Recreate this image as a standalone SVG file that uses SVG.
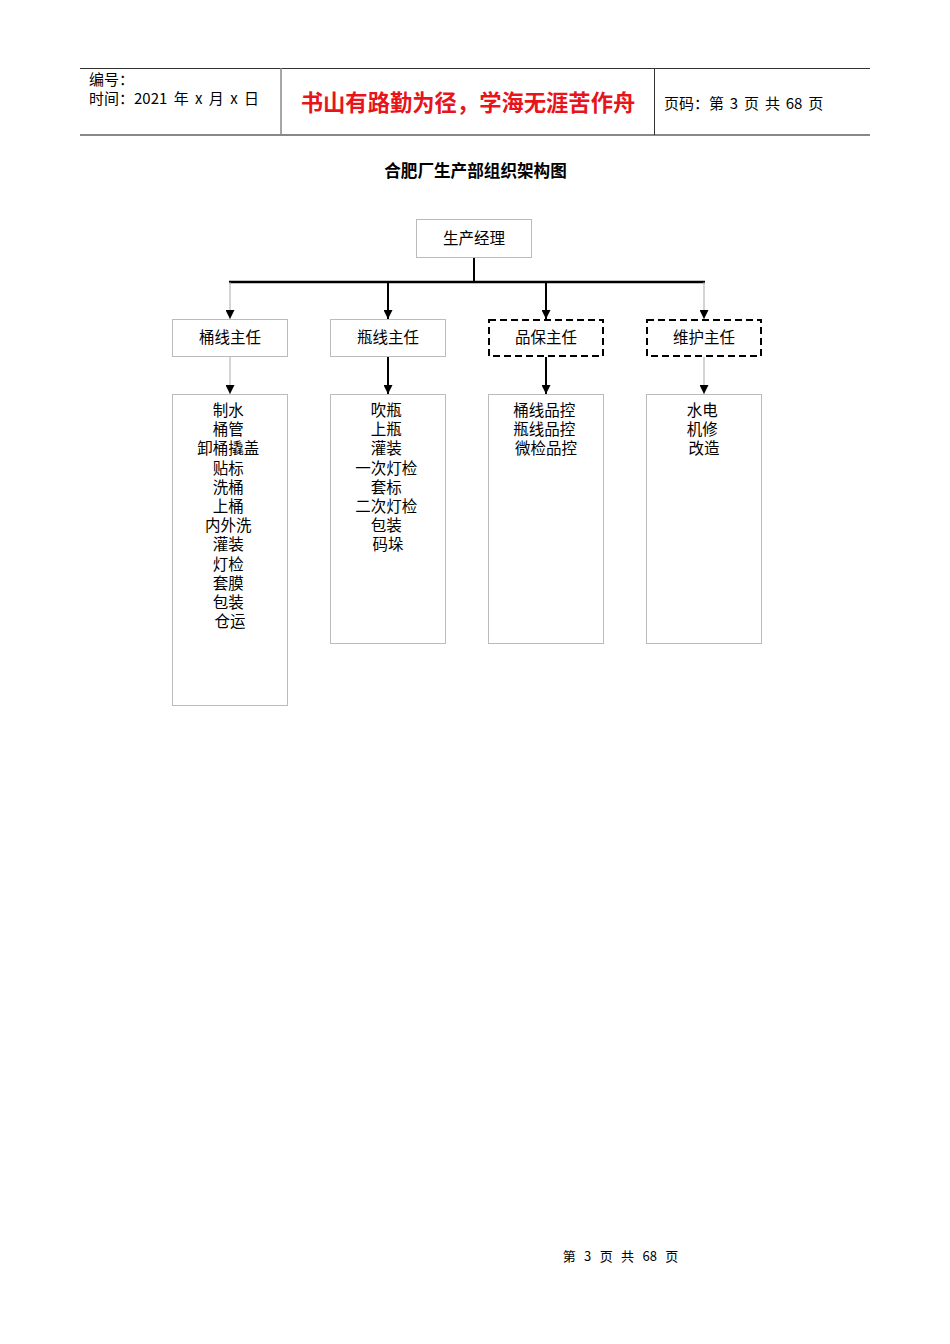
<svg xmlns="http://www.w3.org/2000/svg" width="950" height="1344" viewBox="0 0 950 1344">
<style>
text{font-family:"Noto Sans CJK SC","Liberation Sans",sans-serif;fill:#000}
.hd{font-size:15px}
.nd{font-size:15.5px;text-anchor:middle}
.box{fill:#fff;stroke:#bbb;stroke-width:1}
.dbox{fill:#fff;stroke:#000;stroke-width:2;stroke-dasharray:7,4}
.thin{stroke:#aaa;stroke-width:1;fill:none}
.thick{stroke:#000;stroke-width:2;fill:none}
</style>
<defs>
<marker id="ah" viewBox="0 0 10 10" refX="10" refY="5" markerWidth="9" markerHeight="9" markerUnits="userSpaceOnUse" orient="auto">
<path d="M0,0 L10,5 L0,10 z" fill="#000"/>
</marker>
</defs>
<rect width="950" height="1344" fill="#fff"/>
<g id="header">
<line x1="80" y1="68.5" x2="870" y2="68.5" stroke="#333" stroke-width="1"/>
<line x1="80" y1="135" x2="870" y2="135" stroke="#888" stroke-width="2"/>
<line x1="281" y1="68" x2="281" y2="135" stroke="#888" stroke-width="1.5"/>
<line x1="654.5" y1="68" x2="654.5" y2="135" stroke="#333" stroke-width="1"/>
<text class="hd" x="89" y="85">编号：</text>
<text class="hd" x="89" y="104" style="word-spacing:3px">时间：2021 年 x 月 x 日</text>
<text x="468" y="111" text-anchor="middle" style="font-size:22.3px;font-weight:bold;fill:#e8141b">书山有路勤为径，学海无涯苦作舟</text>
<text class="hd" x="664" y="109" style="word-spacing:2.5px">页码：第 3 页  共 68 页</text>
</g>
<text x="475.5" y="177" text-anchor="middle" style="font-size:16.6px;font-weight:bold">合肥厂生产部组织架构图</text>
<g id="connectors">
<line class="thick" x1="474" y1="257" x2="474" y2="282"/>
<line x1="229" y1="282" x2="705" y2="282" stroke="#000" stroke-width="2.5"/>
<line class="thin" x1="230" y1="282" x2="230" y2="319" marker-end="url(#ah)"/>
<line class="thick" x1="388" y1="282" x2="388" y2="319" marker-end="url(#ah)"/>
<line class="thick" x1="546" y1="282" x2="546" y2="319" marker-end="url(#ah)"/>
<line class="thin" x1="704" y1="282" x2="704" y2="319" marker-end="url(#ah)"/>
<line class="thin" x1="230" y1="356" x2="230" y2="394" marker-end="url(#ah)"/>
<line class="thick" x1="388" y1="356" x2="388" y2="394" marker-end="url(#ah)"/>
<line class="thick" x1="546" y1="357" x2="546" y2="394" marker-end="url(#ah)"/>
<line class="thin" x1="704" y1="357" x2="704" y2="394" marker-end="url(#ah)"/>
</g>
<g id="n-manager">
<rect class="box" x="416.5" y="219.5" width="115" height="38"/>
<text class="nd" x="474" y="244">生产经理</text>
</g>
<g id="n-tong">
<rect class="box" x="172.5" y="319.5" width="115" height="37"/>
<text class="nd" x="230" y="343">桶线主任</text>
</g>
<g id="n-ping">
<rect class="box" x="330.5" y="319.5" width="115" height="37"/>
<text class="nd" x="388" y="343">瓶线主任</text>
</g>
<g id="n-pinbao">
<rect class="dbox" x="489" y="320" width="114" height="36"/>
<text class="nd" x="546" y="343">品保主任</text>
</g>
<g id="n-weihu">
<rect class="dbox" x="647" y="320" width="114" height="36"/>
<text class="nd" x="704" y="343">维护主任</text>
</g>
<g id="n-tong-tasks">
<rect class="box" x="172.5" y="394.5" width="115" height="311"/>
<text class="nd">
<tspan x="230" y="416">制水</tspan>
<tspan x="230" y="435.2">桶管</tspan>
<tspan x="230" y="454.4">卸桶撬盖</tspan>
<tspan x="230" y="473.6">贴标</tspan>
<tspan x="230" y="492.8">洗桶</tspan>
<tspan x="230" y="512">上桶</tspan>
<tspan x="230" y="531.2">内外洗</tspan>
<tspan x="230" y="550.4">灌装</tspan>
<tspan x="230" y="569.6">灯检</tspan>
<tspan x="230" y="588.8">套膜</tspan>
<tspan x="230" y="608">包装</tspan>
<tspan x="230" y="627.2">仓运</tspan>
</text>
</g>
<g id="n-ping-tasks">
<rect class="box" x="330.5" y="394.5" width="115" height="249"/>
<text class="nd">
<tspan x="388" y="416">吹瓶</tspan>
<tspan x="388" y="435.2">上瓶</tspan>
<tspan x="388" y="454.4">灌装</tspan>
<tspan x="388" y="473.6">一次灯检</tspan>
<tspan x="388" y="492.8">套标</tspan>
<tspan x="388" y="512">二次灯检</tspan>
<tspan x="388" y="531.2">包装</tspan>
<tspan x="388" y="550.4">码垛</tspan>
</text>
</g>
<g id="n-pinbao-tasks">
<rect class="box" x="488.5" y="394.5" width="115" height="249"/>
<text class="nd">
<tspan x="546" y="416">桶线品控</tspan>
<tspan x="546" y="435.2">瓶线品控</tspan>
<tspan x="546" y="454.4">微检品控</tspan>
</text>
</g>
<g id="n-weihu-tasks">
<rect class="box" x="646.5" y="394.5" width="115" height="249"/>
<text class="nd">
<tspan x="704" y="416">水电</tspan>
<tspan x="704" y="435.2">机修</tspan>
<tspan x="704" y="454.4">改造</tspan>
</text>
</g>
<text x="620.5" y="1261" text-anchor="middle" style="font-size:13px;word-spacing:5.5px">第 3 页 共 68 页</text>
</svg>
